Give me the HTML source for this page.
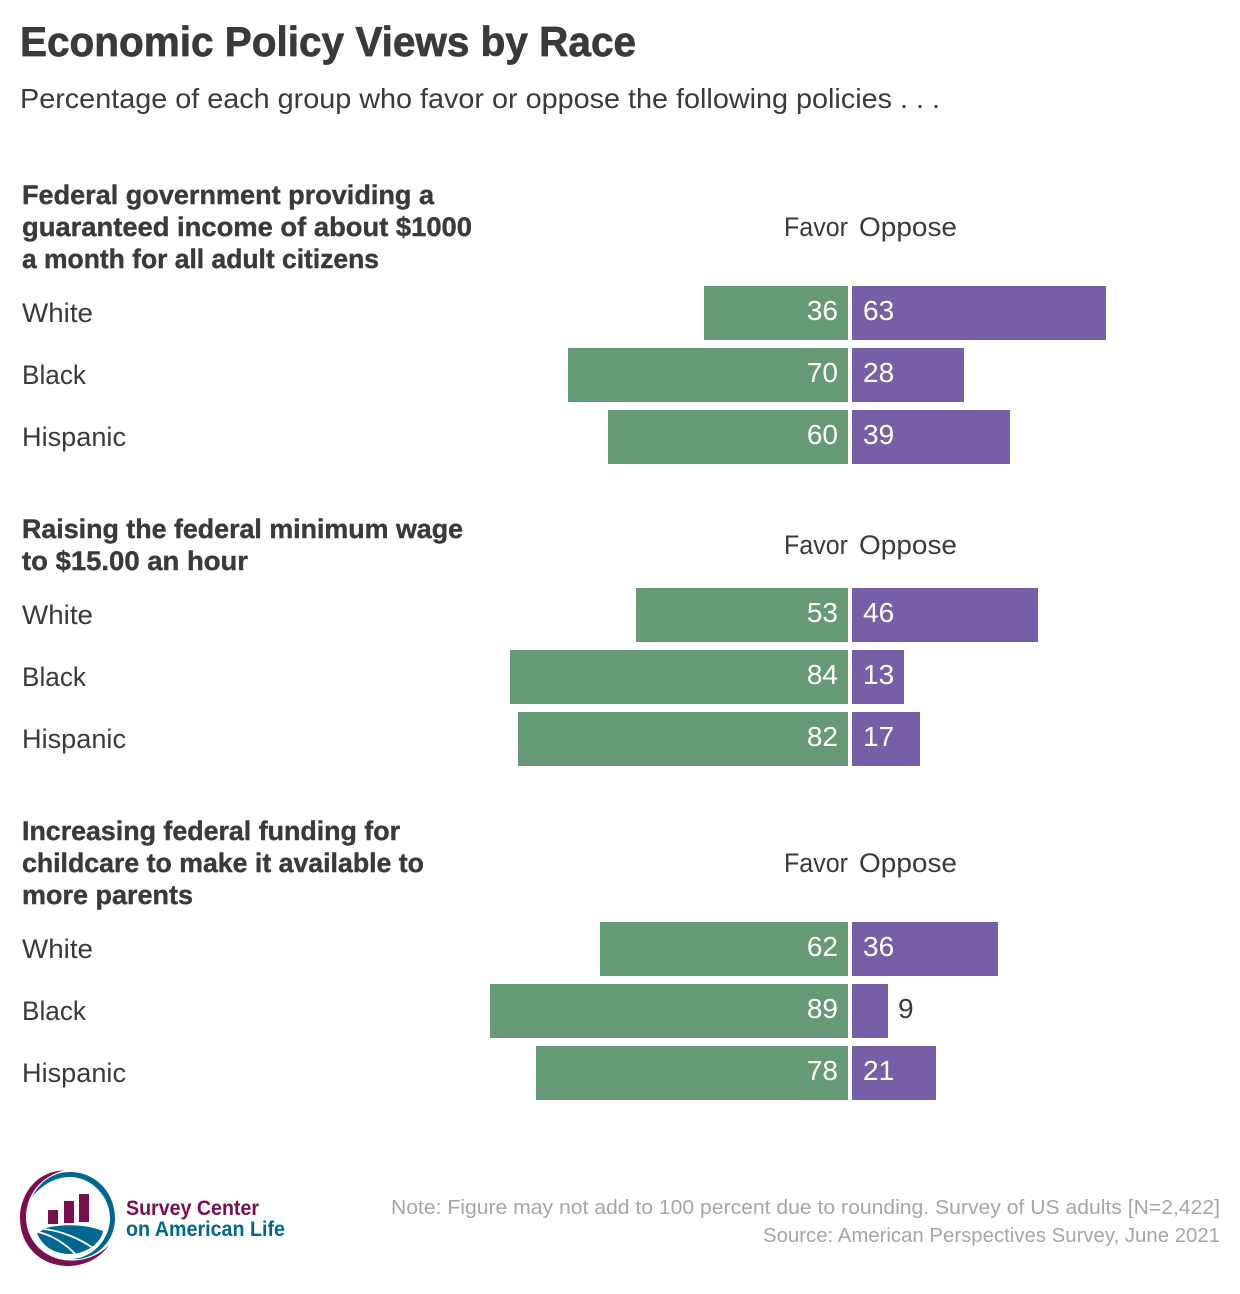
<!DOCTYPE html>
<html>
<head>
<meta charset="utf-8">
<title>Economic Policy Views by Race</title>
<style>
html,body{margin:0;padding:0;background:#fff;}
body{width:1240px;height:1294px;overflow:hidden;}
svg{display:block;}
text{font-family:"Liberation Sans",sans-serif;fill:#3a3a3a;}
.title{font-size:42px;font-weight:700;stroke:#3a3a3a;stroke-width:.7px;}
.sub{font-size:28px;}
.head{font-size:27px;font-weight:700;stroke:#3a3a3a;stroke-width:.4px;}
.lab{font-size:27px;}
.val{font-size:28px;}
.note{font-size:20px;fill:#a6a6a6;}
.brand{font-size:21px;font-weight:700;}
</style>
</head>
<body>
<svg id="chart" width="1240" height="1294" viewBox="0 0 1240 1294" xmlns="http://www.w3.org/2000/svg">
<text class="title" x="20" y="56" textLength="616" lengthAdjust="spacingAndGlyphs">Economic Policy Views by Race</text>
<text class="sub" x="20" y="108" textLength="920" lengthAdjust="spacingAndGlyphs">Percentage of each group who favor or oppose the following policies . . .</text>

<g>
<text class="head" x="22" y="204" textLength="412" lengthAdjust="spacingAndGlyphs">Federal government providing a</text>
<text class="head" x="22" y="236" textLength="450" lengthAdjust="spacingAndGlyphs">guaranteed income of about $1000</text>
<text class="head" x="22" y="268" textLength="357" lengthAdjust="spacingAndGlyphs">a month for all adult citizens</text>
</g>
<g>
<text class="head" x="22" y="538" textLength="441" lengthAdjust="spacingAndGlyphs">Raising the federal minimum wage</text>
<text class="head" x="22" y="570" textLength="226" lengthAdjust="spacingAndGlyphs">to $15.00 an hour</text>
</g>
<g>
<text class="head" x="22" y="840" textLength="378" lengthAdjust="spacingAndGlyphs">Increasing federal funding for</text>
<text class="head" x="22" y="872" textLength="402" lengthAdjust="spacingAndGlyphs">childcare to make it available to</text>
<text class="head" x="22" y="904" textLength="171" lengthAdjust="spacingAndGlyphs">more parents</text>
</g>

<g id="bars"></g>

<g>
<path fill="#7a0f4d" d="M64 1170.5 C36 1171 20 1195 20 1218 C20 1247 42 1266 68 1266 C86 1266 101 1257 109 1245 C100 1255 85 1261 70 1260.5 C45 1260 26 1241 26 1217 C26 1195 41 1176 64 1170.5 Z"/>
<path fill="#00678f" d="M32 1197 C40 1181 54 1172 70 1172 C96 1172 115 1193 115 1218 C115 1233 108 1245 96 1253 C88 1258 78 1260 72 1259 C92 1258 110 1240 110 1218 C110 1196 91 1177 70 1177 C54 1177 41 1186 32 1197 Z"/>
<rect x="48" y="1210" width="10" height="14" fill="#7a0f4d"/>
<rect x="64" y="1201" width="10" height="22" fill="#7a0f4d"/>
<rect x="79" y="1194" width="10" height="28" fill="#7a0f4d"/>
<path fill="#00678f" d="M37 1233 C42 1231 44 1229 46 1228 C62 1224 85 1224 103 1231 C102 1238 97 1243 92 1247 C84 1252 77 1254 70 1254 C54 1254 42 1246 37 1233 Z"/>
<path fill="none" stroke="#ffffff" stroke-width="1.8" d="M44 1229 C62 1231 80 1239 93 1248"/>
<path fill="none" stroke="#ffffff" stroke-width="1.8" d="M38 1232 C52 1235 66 1244 76 1255"/>
</g>
<g>
<text class="brand" x="126" y="1215" textLength="133" lengthAdjust="spacingAndGlyphs" style="fill:#7a0f4d">Survey Center</text>
<text class="brand" x="126" y="1236" textLength="159" lengthAdjust="spacingAndGlyphs" style="fill:#00678f">on American Life</text>
</g>
<text class="note" x="391" y="1214" textLength="829" lengthAdjust="spacingAndGlyphs">Note: Figure may not add to 100 percent due to rounding. Survey of US adults [N=2,422]</text>
<text class="note" x="763" y="1242" textLength="457" lengthAdjust="spacingAndGlyphs">Source: American Perspectives Survey, June 2021</text>
</svg>
<script>
const groups = ["White", "Black", "Hispanic"];
const policies = ["income", "minimum-wage", "childcare"];
const favorValues = [[36, 70, 60], [53, 84.5, 82.5], [62, 89.5, 78]];
const opposeValues = [[63.5, 28, 39.5], [46.5, 13, 17], [36.5, 9, 21]];
const favorLabels = [["36", "70", "60"], ["53", "84", "82"], ["62", "89", "78"]];
const opposeLabels = [["63", "28", "39"], ["46", "13", "17"], ["36", "9", "21"]];

const NS = "http://www.w3.org/2000/svg";
const barsLayer = document.getElementById("bars");
const favorBase = 848, opposeBase = 852, pxPerPoint = 4;
const panelTops = [286, 588, 922];
const headerBaselines = [236, 554, 872];
const rowStep = 62, barHeight = 54;
const favorScale = v => favorBase - v * pxPerPoint;
const opposeScale = v => opposeBase + v * pxPerPoint;

function makeText(cls, x, y, anchor, fill, str, width) {
  const t = document.createElementNS(NS, "text");
  t.setAttribute("class", cls);
  t.setAttribute("x", x);
  t.setAttribute("y", y);
  t.setAttribute("text-anchor", anchor);
  if (fill) t.style.fill = fill;
  if (width) {
    t.setAttribute("textLength", width);
    t.setAttribute("lengthAdjust", "spacingAndGlyphs");
  }
  t.textContent = str;
  return t;
}

const labelWidths = { White: 71, Black: 64, Hispanic: 104 };

policies.forEach((policy, p) => {
  const favorHeader = makeText("lab", 848, headerBaselines[p], "end", null, "Favor", 64);
  
  
  barsLayer.appendChild(favorHeader);

  const opposeHeader = makeText("lab", 859, headerBaselines[p], "start", null, "Oppose", 98);
  
  
  barsLayer.appendChild(opposeHeader);

  groups.forEach((group, g) => {
    const y = panelTops[p] + g * rowStep;

    const rowLabel = makeText("lab", 22, y + 36, "start", null, group, labelWidths[group]);
    
    
    barsLayer.appendChild(rowLabel);

    const fx = favorScale(favorValues[p][g]);
    const fBar = document.createElementNS(NS, "rect");
    fBar.setAttribute("x", fx);
    fBar.setAttribute("y", y);
    fBar.setAttribute("width", favorBase - fx);
    fBar.setAttribute("height", barHeight);
    fBar.setAttribute("fill", "#669a76");
    
    
    barsLayer.appendChild(fBar);

    const oEnd = opposeScale(opposeValues[p][g]);
    const oBar = document.createElementNS(NS, "rect");
    oBar.setAttribute("x", opposeBase);
    oBar.setAttribute("y", y);
    oBar.setAttribute("width", oEnd - opposeBase);
    oBar.setAttribute("height", barHeight);
    oBar.setAttribute("fill", "#765fa6");
    
    
    barsLayer.appendChild(oBar);

    const fVal = makeText("val", favorBase - 10, y + 34, "end", "#ffffff", favorLabels[p][g]);
    
    
    barsLayer.appendChild(fVal);

    const outside = opposeValues[p][g] < 10;
    const oVal = makeText("val", outside ? oEnd + 10 : opposeBase + 11, y + 34, "start", outside ? "#3a3a3a" : "#ffffff", opposeLabels[p][g]);
    
    
    barsLayer.appendChild(oVal);
  });
});
</script>
</body>
</html>
